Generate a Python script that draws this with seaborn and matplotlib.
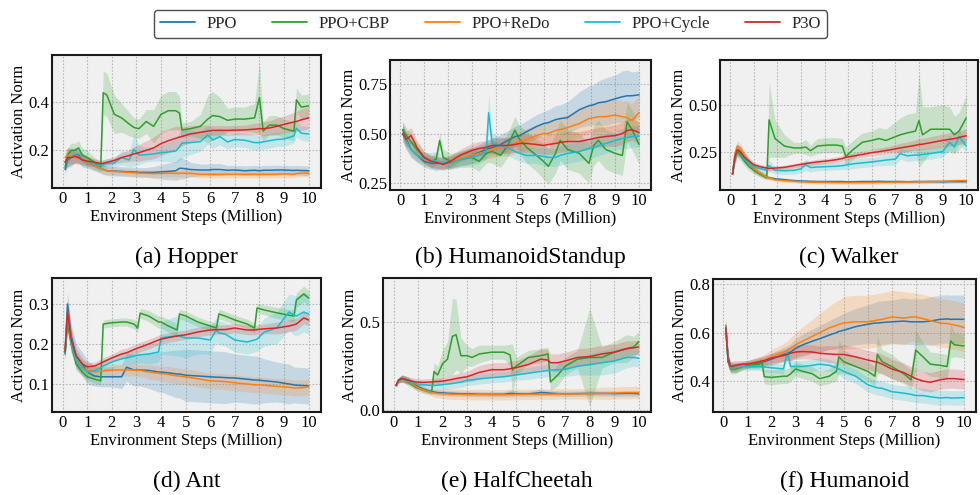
import numpy as np
import pandas as pd
import matplotlib
matplotlib.use("Agg")
import matplotlib.pyplot as plt
import seaborn as sns
from matplotlib.lines import Line2D
from matplotlib.ticker import FormatStrFormatter

METHODS = ["PPO", "PPO+CBP", "PPO+ReDo", "PPO+Cycle", "P3O"]
COLORS = ["#1f77b4", "#2ca02c", "#ff7f0e", "#17becf", "#d62728"]
XTICKS = [0, 1, 2, 3, 4, 5, 6, 7, 8, 9, 10]

# ---------------- (a) Hopper ----------------
HOP_X = [0.1, 0.2, 0.35, 0.5, 0.65, 0.8, 1.0, 1.3, 1.55, 1.65, 1.8, 2.1, 2.4, 2.7, 2.9, 3.1, 3.4, 3.7, 4.0, 4.3,
         4.6, 4.75, 4.85, 5.2, 5.6, 5.9, 6.1, 6.4, 6.7, 7.0, 7.4, 7.8, 8.0, 8.15, 8.4, 8.7, 9.0, 9.4, 9.5, 9.7, 10.0]
HOP_PPO = [0.12, 0.16, 0.17, 0.18, 0.18, 0.16, 0.15, 0.135, 0.125, 0.12, 0.115, 0.113, 0.112, 0.11, 0.11, 0.108, 0.108, 0.108, 0.11, 0.112,
           0.115, 0.125, 0.125, 0.12, 0.118, 0.118, 0.12, 0.12, 0.117, 0.118, 0.115, 0.117, 0.115, 0.117, 0.117, 0.118, 0.118, 0.116, 0.117, 0.116, 0.115]
HOP_PPO_SD = [0.02, 0.03, 0.03, 0.03, 0.03, 0.03, 0.025, 0.02, 0.02, 0.02, 0.02, 0.02, 0.02, 0.02, 0.02, 0.02, 0.02, 0.025, 0.03, 0.035,
              0.04, 0.045, 0.045, 0.03, 0.025, 0.025, 0.025, 0.025, 0.02, 0.02, 0.02, 0.02, 0.02, 0.02, 0.02, 0.02, 0.02, 0.02, 0.02, 0.02, 0.02]
HOP_CBP = [0.13, 0.18, 0.2, 0.2, 0.21, 0.18, 0.17, 0.15, 0.13, 0.44, 0.43, 0.35, 0.335, 0.31, 0.295, 0.29, 0.32, 0.3, 0.35, 0.365,
           0.365, 0.355, 0.285, 0.29, 0.3, 0.33, 0.345, 0.34, 0.325, 0.33, 0.33, 0.335, 0.42, 0.28, 0.305, 0.305, 0.29, 0.28, 0.41, 0.38, 0.385]
HOP_CBP_SD = [0.02, 0.03, 0.03, 0.03, 0.03, 0.03, 0.03, 0.02, 0.02, 0.09, 0.09, 0.08, 0.06, 0.05, 0.04, 0.04, 0.05, 0.07, 0.08, 0.08,
              0.08, 0.07, 0.03, 0.03, 0.05, 0.1, 0.1, 0.08, 0.05, 0.05, 0.05, 0.06, 0.15, 0.04, 0.04, 0.04, 0.04, 0.04, 0.05, 0.05, 0.05]
HOP_REDO = [0.17, 0.18, 0.175, 0.17, 0.165, 0.16, 0.15, 0.135, 0.125, 0.12, 0.115, 0.112, 0.11, 0.108, 0.106, 0.105, 0.104, 0.103, 0.104, 0.105,
            0.104, 0.104, 0.105, 0.104, 0.1, 0.1, 0.1, 0.1, 0.1, 0.1, 0.1, 0.1, 0.1, 0.1, 0.1, 0.1, 0.102, 0.1, 0.103, 0.105, 0.105]
HOP_REDO_SD = [0.03, 0.03, 0.03, 0.025, 0.025, 0.02, 0.02, 0.02, 0.02, 0.02, 0.015, 0.015, 0.015, 0.015, 0.015, 0.015, 0.015, 0.015, 0.015, 0.015,
               0.015, 0.015, 0.015, 0.015, 0.015, 0.015, 0.015, 0.015, 0.015, 0.015, 0.015, 0.015, 0.015, 0.015, 0.015, 0.015, 0.015, 0.015, 0.015, 0.015, 0.015]
HOP_CYCLE = [0.15, 0.17, 0.17, 0.18, 0.175, 0.16, 0.155, 0.14, 0.135, 0.14, 0.145, 0.148, 0.17, 0.16, 0.204, 0.18, 0.182, 0.185, 0.19, 0.193,
             0.197, 0.215, 0.23, 0.232, 0.236, 0.264, 0.243, 0.257, 0.235, 0.245, 0.242, 0.232, 0.232, 0.235, 0.24, 0.245, 0.247, 0.26, 0.292, 0.271, 0.268]
HOP_CYCLE_SD = [0.03, 0.04, 0.04, 0.03, 0.03, 0.025, 0.02, 0.02, 0.02, 0.02, 0.02, 0.02, 0.03, 0.03, 0.07, 0.04, 0.03, 0.03, 0.035, 0.04,
                0.05, 0.06, 0.06, 0.05, 0.04, 0.04, 0.035, 0.035, 0.03, 0.03, 0.03, 0.03, 0.03, 0.03, 0.03, 0.03, 0.03, 0.03, 0.035, 0.03, 0.03]
HOP_P3O = [0.15, 0.17, 0.17, 0.175, 0.17, 0.16, 0.155, 0.15, 0.145, 0.146, 0.15, 0.158, 0.17, 0.178, 0.185, 0.19, 0.2, 0.21, 0.228, 0.24,
           0.25, 0.255, 0.258, 0.268, 0.275, 0.28, 0.283, 0.283, 0.283, 0.284, 0.285, 0.288, 0.29, 0.29, 0.293, 0.3, 0.308, 0.318, 0.32, 0.327, 0.335]
HOP_P3O_SD = [0.03, 0.04, 0.03, 0.03, 0.025, 0.02, 0.02, 0.015, 0.015, 0.015, 0.015, 0.015, 0.02, 0.025, 0.03, 0.035, 0.04, 0.045, 0.05, 0.05,
              0.05, 0.045, 0.04, 0.035, 0.03, 0.025, 0.02, 0.02, 0.02, 0.02, 0.02, 0.025, 0.025, 0.03, 0.03, 0.035, 0.035, 0.04, 0.04, 0.045, 0.045]

# ---------------- (b) HumanoidStandup ----------------
HST_X = [0.1, 0.25, 0.45, 0.7, 1.0, 1.3, 1.5, 1.65, 1.8, 2.1, 2.5, 3.0, 3.3, 3.6, 3.7, 3.85, 4.2, 4.5, 4.8, 5.0,
         5.3, 5.7, 6.0, 6.2, 6.5, 6.7, 7.0, 7.5, 7.9, 8.1, 8.3, 8.6, 9.0, 9.3, 9.5, 9.7, 10.0]
HST_PPO = [0.52, 0.47, 0.42, 0.39, 0.36, 0.35, 0.35, 0.35, 0.35, 0.355, 0.37, 0.39, 0.405, 0.42, 0.425, 0.43, 0.445, 0.465, 0.485, 0.49,
           0.51, 0.535, 0.55, 0.555, 0.57, 0.575, 0.58, 0.62, 0.64, 0.645, 0.655, 0.66, 0.675, 0.685, 0.69, 0.69, 0.695]
HST_PPO_SD = [0.04, 0.04, 0.04, 0.035, 0.03, 0.03, 0.03, 0.03, 0.03, 0.03, 0.035, 0.04, 0.04, 0.045, 0.045, 0.045, 0.05, 0.05, 0.05, 0.055,
              0.055, 0.06, 0.06, 0.065, 0.07, 0.07, 0.08, 0.09, 0.1, 0.1, 0.11, 0.12, 0.12, 0.13, 0.13, 0.12, 0.12]
HST_CBP = [0.52, 0.49, 0.46, 0.42, 0.38, 0.36, 0.37, 0.465, 0.38, 0.36, 0.37, 0.38, 0.36, 0.4, 0.405, 0.41, 0.39, 0.44, 0.517, 0.47,
           0.43, 0.39, 0.36, 0.335, 0.4, 0.466, 0.42, 0.4, 0.35, 0.44, 0.466, 0.42, 0.4, 0.39, 0.559, 0.52, 0.445]
HST_CBP_SD = [0.04, 0.04, 0.04, 0.035, 0.03, 0.03, 0.03, 0.04, 0.04, 0.04, 0.04, 0.05, 0.05, 0.05, 0.05, 0.06, 0.06, 0.06, 0.07, 0.07,
              0.08, 0.08, 0.09, 0.09, 0.1, 0.1, 0.1, 0.1, 0.1, 0.1, 0.1, 0.1, 0.1, 0.1, 0.1, 0.1, 0.1]
HST_REDO = [0.5, 0.46, 0.42, 0.39, 0.37, 0.36, 0.355, 0.355, 0.355, 0.36, 0.375, 0.39, 0.4, 0.41, 0.415, 0.42, 0.43, 0.435, 0.45, 0.46,
            0.47, 0.49, 0.5, 0.5, 0.515, 0.52, 0.53, 0.55, 0.575, 0.58, 0.585, 0.585, 0.593, 0.585, 0.58, 0.565, 0.605]
HST_REDO_SD = [0.04, 0.04, 0.035, 0.03, 0.03, 0.03, 0.03, 0.03, 0.03, 0.03, 0.035, 0.04, 0.04, 0.04, 0.04, 0.045, 0.045, 0.05, 0.05, 0.05,
               0.055, 0.055, 0.06, 0.06, 0.06, 0.065, 0.065, 0.07, 0.07, 0.075, 0.075, 0.08, 0.08, 0.08, 0.085, 0.085, 0.085]
HST_CYCLE = [0.5, 0.46, 0.42, 0.39, 0.375, 0.365, 0.36, 0.36, 0.355, 0.35, 0.37, 0.38, 0.39, 0.41, 0.605, 0.45, 0.44, 0.43, 0.41, 0.4,
             0.39, 0.39, 0.385, 0.38, 0.38, 0.39, 0.4, 0.41, 0.425, 0.43, 0.44, 0.45, 0.465, 0.475, 0.48, 0.485, 0.487]
HST_CYCLE_SD = [0.04, 0.04, 0.035, 0.03, 0.03, 0.04, 0.05, 0.04, 0.03, 0.03, 0.03, 0.04, 0.04, 0.04, 0.09, 0.05, 0.04, 0.04, 0.04, 0.04,
                0.04, 0.04, 0.045, 0.045, 0.045, 0.05, 0.05, 0.05, 0.05, 0.05, 0.05, 0.05, 0.05, 0.05, 0.055, 0.055, 0.055]
HST_P3O = [0.5, 0.47, 0.49, 0.43, 0.38, 0.36, 0.355, 0.35, 0.345, 0.36, 0.39, 0.415, 0.425, 0.43, 0.435, 0.44, 0.44, 0.44, 0.445, 0.45,
           0.45, 0.445, 0.44, 0.445, 0.45, 0.455, 0.46, 0.46, 0.47, 0.475, 0.48, 0.485, 0.49, 0.5, 0.515, 0.52, 0.505]
HST_P3O_SD = [0.04, 0.04, 0.04, 0.035, 0.03, 0.03, 0.03, 0.03, 0.03, 0.03, 0.03, 0.035, 0.035, 0.035, 0.035, 0.04, 0.04, 0.04, 0.04, 0.045,
              0.045, 0.045, 0.045, 0.05, 0.05, 0.05, 0.05, 0.05, 0.05, 0.05, 0.05, 0.05, 0.055, 0.055, 0.055, 0.055, 0.055]

# ---------------- (c) Walker ----------------
WLK_X = [0.1, 0.2, 0.3, 0.45, 0.6, 0.8, 1.0, 1.25, 1.55, 1.65, 1.9, 2.3, 2.7, 3.0, 3.2, 3.4, 3.7, 4.1, 4.5, 4.75,
         4.9, 5.2, 5.6, 6.0, 6.3, 6.6, 7.0, 7.2, 7.5, 7.85, 8.0, 8.15, 8.5, 9.0, 9.3, 9.5, 9.7, 10.0]
WLK_PPO = [0.13, 0.22, 0.26, 0.25, 0.22, 0.19, 0.16, 0.135, 0.115, 0.11, 0.105, 0.1, 0.095, 0.093, 0.092, 0.091, 0.09, 0.09, 0.09, 0.09,
           0.089, 0.089, 0.09, 0.09, 0.091, 0.09, 0.09, 0.09, 0.089, 0.09, 0.09, 0.09, 0.09, 0.089, 0.09, 0.09, 0.09, 0.09]
WLK_PPO_SD = [0.01, 0.03, 0.03, 0.03, 0.025, 0.02, 0.02, 0.015, 0.012, 0.01, 0.008, 0.008, 0.008, 0.008, 0.008, 0.008, 0.008, 0.008, 0.008, 0.008,
              0.008, 0.008, 0.008, 0.008, 0.008, 0.008, 0.008, 0.008, 0.008, 0.008, 0.008, 0.008, 0.008, 0.008, 0.008, 0.008, 0.008, 0.008]
WLK_CBP = [0.13, 0.21, 0.25, 0.23, 0.2, 0.17, 0.15, 0.13, 0.11, 0.42, 0.32, 0.28, 0.27, 0.27, 0.275, 0.255, 0.28, 0.285, 0.285, 0.28,
           0.225, 0.26, 0.3, 0.31, 0.32, 0.31, 0.33, 0.34, 0.35, 0.36, 0.416, 0.34, 0.37, 0.37, 0.37, 0.34, 0.36, 0.43]
WLK_CBP_SD = [0.01, 0.03, 0.03, 0.03, 0.025, 0.02, 0.02, 0.015, 0.012, 0.2, 0.1, 0.06, 0.03, 0.03, 0.04, 0.03, 0.04, 0.04, 0.04, 0.04,
              0.05, 0.05, 0.05, 0.05, 0.06, 0.06, 0.08, 0.09, 0.1, 0.1, 0.25, 0.15, 0.12, 0.13, 0.12, 0.1, 0.1, 0.12]
WLK_REDO = [0.13, 0.24, 0.28, 0.26, 0.23, 0.19, 0.16, 0.135, 0.115, 0.11, 0.1, 0.095, 0.092, 0.089, 0.088, 0.087, 0.087, 0.086, 0.085, 0.085,
            0.085, 0.085, 0.085, 0.085, 0.086, 0.086, 0.087, 0.087, 0.088, 0.088, 0.089, 0.089, 0.09, 0.092, 0.093, 0.094, 0.095, 0.095]
WLK_REDO_SD = [0.01, 0.03, 0.03, 0.03, 0.025, 0.02, 0.02, 0.015, 0.012, 0.01, 0.01, 0.01, 0.01, 0.01, 0.01, 0.01, 0.01, 0.01, 0.01, 0.01,
               0.01, 0.01, 0.01, 0.01, 0.01, 0.01, 0.01, 0.01, 0.01, 0.01, 0.01, 0.01, 0.01, 0.01, 0.01, 0.01, 0.01, 0.01]
WLK_CYCLE = [0.13, 0.22, 0.26, 0.24, 0.21, 0.19, 0.17, 0.16, 0.15, 0.175, 0.15, 0.148, 0.15, 0.158, 0.18, 0.165, 0.168, 0.17, 0.172, 0.175,
             0.178, 0.185, 0.19, 0.195, 0.2, 0.205, 0.21, 0.24, 0.228, 0.232, 0.232, 0.235, 0.24, 0.25, 0.3, 0.275, 0.33, 0.28]
WLK_CYCLE_SD = [0.01, 0.03, 0.03, 0.03, 0.025, 0.02, 0.02, 0.02, 0.02, 0.03, 0.02, 0.02, 0.02, 0.02, 0.03, 0.025, 0.02, 0.02, 0.02, 0.02,
                0.025, 0.025, 0.025, 0.025, 0.025, 0.03, 0.03, 0.03, 0.03, 0.03, 0.03, 0.03, 0.03, 0.03, 0.04, 0.03, 0.04, 0.03]
WLK_P3O = [0.13, 0.22, 0.26, 0.245, 0.22, 0.2, 0.18, 0.17, 0.162, 0.16, 0.162, 0.166, 0.175, 0.182, 0.186, 0.19, 0.195, 0.2, 0.207, 0.213,
           0.22, 0.226, 0.235, 0.245, 0.25, 0.256, 0.265, 0.27, 0.276, 0.284, 0.288, 0.29, 0.298, 0.31, 0.316, 0.32, 0.326, 0.335]
WLK_P3O_SD = [0.01, 0.03, 0.03, 0.03, 0.025, 0.02, 0.015, 0.012, 0.012, 0.012, 0.012, 0.012, 0.012, 0.012, 0.013, 0.013, 0.014, 0.014, 0.015, 0.015,
              0.016, 0.016, 0.017, 0.018, 0.02, 0.02, 0.022, 0.024, 0.026, 0.028, 0.03, 0.03, 0.032, 0.034, 0.035, 0.036, 0.036, 0.036]

# ---------------- (d) Ant ----------------
ANT_X = [0.1, 0.2, 0.35, 0.55, 0.8, 1.0, 1.3, 1.55, 1.65, 2.0, 2.4, 2.6, 2.9, 3.05, 3.15, 3.5, 3.9, 4.0, 4.3, 4.65,
         4.75, 5.0, 5.5, 6.0, 6.25, 6.35, 6.6, 7.0, 7.5, 7.8, 7.9, 8.2, 8.7, 9.2, 9.4, 9.5, 9.8, 10.0]
ANT_PPO = [0.18, 0.3, 0.22, 0.17, 0.15, 0.13, 0.12, 0.118, 0.118, 0.118, 0.118, 0.142, 0.135, 0.135, 0.135, 0.134, 0.13, 0.13, 0.128, 0.125,
           0.125, 0.122, 0.12, 0.118, 0.117, 0.117, 0.116, 0.115, 0.112, 0.11, 0.11, 0.108, 0.105, 0.1, 0.098, 0.097, 0.096, 0.095]
ANT_PPO_SD = [0.02, 0.03, 0.03, 0.03, 0.03, 0.03, 0.025, 0.025, 0.025, 0.025, 0.03, 0.035, 0.04, 0.04, 0.04, 0.045, 0.05, 0.05, 0.055, 0.06,
              0.06, 0.065, 0.065, 0.065, 0.065, 0.065, 0.065, 0.06, 0.06, 0.06, 0.06, 0.055, 0.05, 0.05, 0.045, 0.045, 0.045, 0.045]
ANT_CBP = [0.175, 0.25, 0.2, 0.15, 0.13, 0.118, 0.112, 0.108, 0.25, 0.253, 0.255, 0.255, 0.25, 0.24, 0.277, 0.27, 0.255, 0.255, 0.245, 0.235,
           0.275, 0.27, 0.255, 0.245, 0.24, 0.275, 0.27, 0.26, 0.25, 0.24, 0.29, 0.285, 0.278, 0.272, 0.27, 0.31, 0.325, 0.315]
ANT_CBP_SD = [0.015, 0.02, 0.02, 0.015, 0.01, 0.01, 0.01, 0.01, 0.01, 0.01, 0.01, 0.01, 0.012, 0.012, 0.012, 0.014, 0.015, 0.015, 0.016, 0.016,
              0.012, 0.012, 0.012, 0.012, 0.012, 0.012, 0.012, 0.012, 0.012, 0.012, 0.012, 0.012, 0.014, 0.015, 0.015, 0.018, 0.02, 0.02]
ANT_REDO = [0.18, 0.28, 0.21, 0.16, 0.14, 0.135, 0.13, 0.132, 0.133, 0.135, 0.135, 0.135, 0.135, 0.134, 0.134, 0.13, 0.127, 0.126, 0.124, 0.12,
            0.12, 0.118, 0.113, 0.108, 0.107, 0.107, 0.106, 0.103, 0.1, 0.098, 0.098, 0.097, 0.094, 0.092, 0.09, 0.09, 0.091, 0.093]
ANT_REDO_SD = [0.015, 0.02, 0.02, 0.02, 0.02, 0.02, 0.015, 0.015, 0.015, 0.015, 0.015, 0.015, 0.015, 0.015, 0.015, 0.018, 0.018, 0.018, 0.02, 0.02,
               0.02, 0.02, 0.02, 0.02, 0.02, 0.02, 0.02, 0.02, 0.02, 0.02, 0.02, 0.02, 0.02, 0.02, 0.02, 0.02, 0.02, 0.02]
ANT_CYCLE = [0.175, 0.28, 0.2, 0.16, 0.14, 0.13, 0.133, 0.14, 0.145, 0.155, 0.163, 0.165, 0.17, 0.172, 0.173, 0.175, 0.18, 0.215, 0.218, 0.22,
             0.22, 0.215, 0.215, 0.21, 0.235, 0.228, 0.225, 0.21, 0.205, 0.21, 0.212, 0.23, 0.24, 0.28, 0.272, 0.27, 0.28, 0.275]
ANT_CYCLE_SD = [0.015, 0.03, 0.02, 0.02, 0.015, 0.015, 0.015, 0.015, 0.015, 0.015, 0.015, 0.015, 0.02, 0.02, 0.02, 0.025, 0.025, 0.04, 0.045, 0.05,
                0.05, 0.05, 0.04, 0.035, 0.03, 0.03, 0.03, 0.03, 0.03, 0.03, 0.03, 0.035, 0.04, 0.045, 0.05, 0.05, 0.05, 0.05]
ANT_P3O = [0.18, 0.28, 0.21, 0.17, 0.15, 0.143, 0.145, 0.152, 0.155, 0.165, 0.175, 0.178, 0.186, 0.19, 0.192, 0.2, 0.21, 0.212, 0.216, 0.22,
           0.221, 0.223, 0.23, 0.235, 0.236, 0.236, 0.236, 0.24, 0.235, 0.235, 0.236, 0.238, 0.24, 0.245, 0.248, 0.25, 0.265, 0.26]
ANT_P3O_SD = [0.02, 0.03, 0.03, 0.02, 0.015, 0.01, 0.01, 0.01, 0.01, 0.01, 0.012, 0.012, 0.012, 0.012, 0.012, 0.012, 0.012, 0.012, 0.012, 0.012,
              0.012, 0.012, 0.012, 0.012, 0.012, 0.012, 0.012, 0.012, 0.012, 0.012, 0.012, 0.012, 0.015, 0.015, 0.015, 0.015, 0.015, 0.015]

# ---------------- (e) HalfCheetah ----------------
HCH_X = [0.1, 0.2, 0.35, 0.6, 0.9, 1.2, 1.55, 1.65, 1.8, 2.0, 2.2, 2.4, 2.55, 2.75, 3.0, 3.2, 3.5, 4.0, 4.5, 4.75,
         4.85, 5.0, 5.5, 6.0, 6.3, 6.4, 6.7, 7.0, 7.5, 8.0, 8.5, 9.0, 9.5, 9.8, 10.0]
HCH_PPO = [0.14, 0.17, 0.18, 0.17, 0.14, 0.12, 0.105, 0.103, 0.1, 0.098, 0.096, 0.095, 0.094, 0.093, 0.092, 0.092, 0.09, 0.09, 0.09, 0.095,
           0.095, 0.093, 0.092, 0.1, 0.098, 0.096, 0.094, 0.093, 0.094, 0.095, 0.095, 0.094, 0.095, 0.095, 0.093]
HCH_PPO_SD = [0.01, 0.015, 0.02, 0.02, 0.015, 0.015, 0.015, 0.015, 0.015, 0.015, 0.015, 0.015, 0.015, 0.015, 0.015, 0.015, 0.015, 0.015, 0.015, 0.02,
              0.02, 0.015, 0.015, 0.02, 0.015, 0.015, 0.015, 0.015, 0.015, 0.015, 0.015, 0.015, 0.015, 0.015, 0.015]
HCH_CBP = [0.14, 0.17, 0.18, 0.16, 0.13, 0.115, 0.1, 0.22, 0.2, 0.265, 0.29, 0.42, 0.43, 0.31, 0.31, 0.3, 0.32, 0.33, 0.33, 0.315,
           0.228, 0.25, 0.3, 0.31, 0.32, 0.16, 0.2, 0.25, 0.29, 0.3, 0.3, 0.33, 0.35, 0.36, 0.39]
HCH_CBP_SD = [0.01, 0.015, 0.02, 0.02, 0.015, 0.015, 0.01, 0.05, 0.05, 0.08, 0.1, 0.22, 0.2, 0.1, 0.06, 0.05, 0.05, 0.04, 0.04, 0.06,
              0.15, 0.05, 0.04, 0.04, 0.04, 0.05, 0.06, 0.05, 0.05, 0.28, 0.06, 0.06, 0.08, 0.06, 0.06]
HCH_REDO = [0.14, 0.17, 0.18, 0.165, 0.135, 0.115, 0.1, 0.098, 0.095, 0.093, 0.092, 0.09, 0.09, 0.09, 0.088, 0.088, 0.088, 0.087, 0.087, 0.088,
            0.088, 0.089, 0.09, 0.09, 0.09, 0.09, 0.092, 0.092, 0.092, 0.093, 0.095, 0.097, 0.1, 0.1, 0.1]
HCH_REDO_SD = [0.01, 0.015, 0.02, 0.02, 0.02, 0.02, 0.02, 0.025, 0.025, 0.025, 0.03, 0.03, 0.03, 0.03, 0.03, 0.03, 0.03, 0.03, 0.03, 0.03,
               0.03, 0.03, 0.03, 0.03, 0.03, 0.03, 0.03, 0.03, 0.03, 0.03, 0.035, 0.035, 0.035, 0.035, 0.035]
HCH_CYCLE = [0.14, 0.17, 0.18, 0.165, 0.15, 0.145, 0.14, 0.14, 0.142, 0.145, 0.148, 0.152, 0.155, 0.16, 0.17, 0.172, 0.178, 0.185, 0.19, 0.195,
             0.198, 0.2, 0.21, 0.22, 0.225, 0.228, 0.23, 0.232, 0.25, 0.26, 0.27, 0.28, 0.3, 0.3, 0.295]
HCH_CYCLE_SD = [0.01, 0.015, 0.02, 0.02, 0.02, 0.02, 0.02, 0.025, 0.025, 0.03, 0.03, 0.03, 0.03, 0.03, 0.03, 0.03, 0.03, 0.03, 0.03, 0.03,
                0.03, 0.03, 0.035, 0.035, 0.035, 0.035, 0.04, 0.04, 0.05, 0.06, 0.07, 0.07, 0.06, 0.05, 0.05]
HCH_P3O = [0.14, 0.17, 0.18, 0.17, 0.16, 0.158, 0.16, 0.162, 0.163, 0.165, 0.17, 0.175, 0.18, 0.185, 0.19, 0.2, 0.215, 0.23, 0.23, 0.235,
           0.24, 0.242, 0.26, 0.29, 0.285, 0.27, 0.27, 0.28, 0.3, 0.305, 0.32, 0.33, 0.35, 0.355, 0.36]
HCH_P3O_SD = [0.01, 0.015, 0.02, 0.02, 0.02, 0.02, 0.02, 0.02, 0.02, 0.02, 0.02, 0.025, 0.025, 0.03, 0.03, 0.035, 0.04, 0.04, 0.04, 0.04,
              0.04, 0.04, 0.05, 0.06, 0.06, 0.05, 0.05, 0.05, 0.05, 0.05, 0.05, 0.045, 0.045, 0.04, 0.04]

# ---------------- (f) Humanoid ----------------
HUM_X = [0.1, 0.2, 0.3, 0.5, 0.8, 1.0, 1.5, 1.6, 1.7, 2.0, 2.5, 2.65, 2.8, 3.0, 3.3, 3.7, 4.0, 4.4, 4.7, 4.8,
         5.0, 5.5, 6.0, 6.3, 6.4, 6.6, 7.0, 7.5, 7.8, 8.0, 8.3, 8.6, 9.0, 9.3, 9.45, 9.6, 10.0]
HUM_PPO = [0.63, 0.5, 0.46, 0.455, 0.465, 0.47, 0.475, 0.477, 0.48, 0.49, 0.51, 0.515, 0.52, 0.535, 0.55, 0.565, 0.575, 0.59, 0.6, 0.605,
           0.61, 0.625, 0.635, 0.64, 0.64, 0.642, 0.645, 0.648, 0.645, 0.645, 0.645, 0.648, 0.655, 0.657, 0.655, 0.656, 0.655]
HUM_PPO_SD = [0.03, 0.02, 0.02, 0.02, 0.015, 0.015, 0.02, 0.02, 0.02, 0.025, 0.03, 0.03, 0.035, 0.04, 0.045, 0.05, 0.055, 0.06, 0.065, 0.065,
              0.07, 0.075, 0.08, 0.085, 0.09, 0.09, 0.09, 0.095, 0.095, 0.095, 0.095, 0.1, 0.1, 0.1, 0.1, 0.1, 0.1]
HUM_CBP = [0.62, 0.48, 0.45, 0.45, 0.46, 0.465, 0.47, 0.48, 0.418, 0.415, 0.42, 0.42, 0.43, 0.45, 0.44, 0.43, 0.41, 0.42, 0.44, 0.5,
           0.48, 0.46, 0.44, 0.42, 0.51, 0.48, 0.46, 0.43, 0.405, 0.528, 0.5, 0.47, 0.465, 0.46, 0.566, 0.55, 0.545]
HUM_CBP_SD = [0.03, 0.02, 0.02, 0.02, 0.015, 0.015, 0.02, 0.02, 0.03, 0.03, 0.03, 0.03, 0.03, 0.03, 0.03, 0.03, 0.03, 0.03, 0.04, 0.07,
              0.05, 0.04, 0.04, 0.04, 0.08, 0.05, 0.05, 0.04, 0.04, 0.08, 0.06, 0.05, 0.05, 0.05, 0.07, 0.05, 0.05]
HUM_REDO = [0.63, 0.48, 0.455, 0.455, 0.465, 0.47, 0.48, 0.483, 0.485, 0.5, 0.52, 0.525, 0.535, 0.55, 0.565, 0.585, 0.6, 0.62, 0.63, 0.635,
            0.64, 0.645, 0.645, 0.65, 0.652, 0.655, 0.665, 0.66, 0.665, 0.665, 0.658, 0.65, 0.64, 0.638, 0.635, 0.632, 0.622]
HUM_REDO_SD = [0.03, 0.02, 0.02, 0.02, 0.015, 0.015, 0.02, 0.02, 0.025, 0.03, 0.035, 0.04, 0.045, 0.05, 0.06, 0.07, 0.08, 0.09, 0.1, 0.1,
               0.11, 0.11, 0.11, 0.11, 0.11, 0.11, 0.11, 0.11, 0.1, 0.1, 0.1, 0.1, 0.1, 0.1, 0.1, 0.1, 0.1]
HUM_CYCLE = [0.62, 0.48, 0.455, 0.455, 0.46, 0.46, 0.46, 0.46, 0.458, 0.455, 0.45, 0.52, 0.46, 0.46, 0.46, 0.465, 0.47, 0.465, 0.455, 0.45,
             0.44, 0.42, 0.385, 0.375, 0.372, 0.37, 0.356, 0.35, 0.345, 0.34, 0.34, 0.335, 0.33, 0.332, 0.33, 0.33, 0.331]
HUM_CYCLE_SD = [0.03, 0.02, 0.02, 0.02, 0.015, 0.015, 0.015, 0.02, 0.02, 0.02, 0.02, 0.03, 0.025, 0.025, 0.025, 0.025, 0.025, 0.025, 0.025, 0.025,
                0.03, 0.03, 0.03, 0.03, 0.03, 0.03, 0.03, 0.03, 0.03, 0.03, 0.03, 0.03, 0.03, 0.03, 0.03, 0.03, 0.03]
HUM_P3O = [0.62, 0.48, 0.46, 0.465, 0.47, 0.47, 0.48, 0.483, 0.485, 0.495, 0.505, 0.51, 0.515, 0.52, 0.522, 0.52, 0.515, 0.512, 0.51, 0.51,
           0.51, 0.5, 0.487, 0.48, 0.478, 0.47, 0.45, 0.435, 0.42, 0.41, 0.4, 0.395, 0.405, 0.41, 0.41, 0.41, 0.406]
HUM_P3O_SD = [0.03, 0.02, 0.02, 0.02, 0.015, 0.015, 0.02, 0.02, 0.02, 0.02, 0.025, 0.025, 0.03, 0.03, 0.03, 0.03, 0.03, 0.035, 0.035, 0.035,
              0.04, 0.04, 0.04, 0.04, 0.04, 0.04, 0.04, 0.04, 0.04, 0.04, 0.04, 0.04, 0.04, 0.04, 0.04, 0.04, 0.04]

PANELS = [
    dict(caption="(a) Hopper", x=HOP_X,
         series=[(HOP_PPO, HOP_PPO_SD), (HOP_CBP, HOP_CBP_SD), (HOP_REDO, HOP_REDO_SD), (HOP_CYCLE, HOP_CYCLE_SD), (HOP_P3O, HOP_P3O_SD)],
         yticks=[0.2, 0.4], fmt="%.1f", ylim=(0.043, 0.597), rect=(52, 55, 321, 188)),
    dict(caption="(b) HumanoidStandup", x=HST_X,
         series=[(HST_PPO, HST_PPO_SD), (HST_CBP, HST_CBP_SD), (HST_REDO, HST_REDO_SD), (HST_CYCLE, HST_CYCLE_SD), (HST_P3O, HST_P3O_SD)],
         yticks=[0.25, 0.5, 0.75], fmt="%.2f", ylim=(0.216, 0.87), rect=(390, 60, 651, 190)),
    dict(caption="(c) Walker", x=WLK_X,
         series=[(WLK_PPO, WLK_PPO_SD), (WLK_CBP, WLK_CBP_SD), (WLK_REDO, WLK_REDO_SD), (WLK_CYCLE, WLK_CYCLE_SD), (WLK_P3O, WLK_P3O_SD)],
         yticks=[0.25, 0.5], fmt="%.2f", ylim=(0.045, 0.74), rect=(720, 60, 978, 190)),
    dict(caption="(d) Ant", x=ANT_X,
         series=[(ANT_PPO, ANT_PPO_SD), (ANT_CBP, ANT_CBP_SD), (ANT_REDO, ANT_REDO_SD), (ANT_CYCLE, ANT_CYCLE_SD), (ANT_P3O, ANT_P3O_SD)],
         yticks=[0.1, 0.2, 0.3], fmt="%.1f", ylim=(0.03, 0.365), rect=(52, 278, 321, 412)),
    dict(caption="(e) HalfCheetah", x=HCH_X,
         series=[(HCH_PPO, HCH_PPO_SD), (HCH_CBP, HCH_CBP_SD), (HCH_REDO, HCH_REDO_SD), (HCH_CYCLE, HCH_CYCLE_SD), (HCH_P3O, HCH_P3O_SD)],
         yticks=[0.0, 0.5], fmt="%.1f", ylim=(-0.011, 0.753), rect=(383, 278, 651, 412)),
    dict(caption="(f) Humanoid", x=HUM_X,
         series=[(HUM_PPO, HUM_PPO_SD), (HUM_CBP, HUM_CBP_SD), (HUM_REDO, HUM_REDO_SD), (HUM_CYCLE, HUM_CYCLE_SD), (HUM_P3O, HUM_P3O_SD)],
         yticks=[0.4, 0.6, 0.8], fmt="%.1f", ylim=(0.272, 0.822), rect=(713, 279, 976, 412)),
]

sns.set_theme(style="white")
plt.rcParams["font.family"] = ["Liberation Serif", "DejaVu Serif"]
plt.rcParams["mathtext.fontset"] = "stix"

W, H = 980, 495
fig = plt.figure(figsize=(W / 100, H / 100), dpi=100)
fig.patch.set_facecolor("white")

for p in PANELS:
    l, t, r, b = p["rect"]
    ax = fig.add_axes([l / W, 1 - b / H, (r - l) / W, (b - t) / H])
    ax.set_facecolor("#f0f0f0")

    frames = []
    for name, (mean, sd) in zip(METHODS, p["series"]):
        frames.append(pd.DataFrame({"step": p["x"], "norm": mean, "sd": sd, "method": name}))
    df = pd.concat(frames, ignore_index=True)
    df["lo"] = df["norm"] - df["sd"]
    df["hi"] = df["norm"] + df["sd"]

    for name, color in zip(METHODS, COLORS):
        sub = df[df["method"] == name]
        ax.fill_between(sub["step"], sub["lo"], sub["hi"], color=color, alpha=0.2, linewidth=0)
    sns.lineplot(data=df, x="step", y="norm", hue="method", hue_order=METHODS,
                 palette=COLORS, errorbar=None, estimator=None, sort=False,
                 linewidth=1.1, legend=False, ax=ax)

    ax.set_xlim(-0.43, 10.5)
    ax.set_ylim(*p["ylim"])
    ax.set_xticks(XTICKS)
    ax.set_yticks(p["yticks"])
    ax.yaxis.set_major_formatter(FormatStrFormatter(p["fmt"]))
    ax.tick_params(axis="both", labelsize=12, length=0, colors="#000000")
    ax.tick_params(axis="x", pad=2)
    ax.tick_params(axis="y", pad=2)
    ax.grid(True, color="#b8b8b8", linestyle=(0, (1.5, 1.5)), linewidth=0.8)
    ax.set_axisbelow(True)
    for s in ax.spines.values():
        s.set_color("#1a1a1a")
        s.set_linewidth(1.5)
    ax.set_xlabel("Environment Steps (Million)", fontsize=12, labelpad=1.5, color="#000000")
    ax.set_ylabel("Activation Norm", fontsize=12, labelpad=1, color="#000000")

    cx = (l + r) / 2 / W
    cy = 1 - (257 if t < 150 else 481) / H
    fig.text(cx, cy, p["caption"], ha="center", va="center", fontsize=17, color="#000000")

handles = [Line2D([0], [0], color=c, lw=1.3) for c in COLORS]
leg = fig.legend(handles, METHODS, loc="upper center", bbox_to_anchor=(0.5005, 0.996), ncol=5,
                 fontsize=12, frameon=True, handlelength=2.1, handletextpad=0.7, columnspacing=2.1,
                 borderpad=0.35, fancybox=True)
leg.get_frame().set_edgecolor("#222222")
leg.get_frame().set_linewidth(1.0)

fig.savefig("out.png", dpi=100)
